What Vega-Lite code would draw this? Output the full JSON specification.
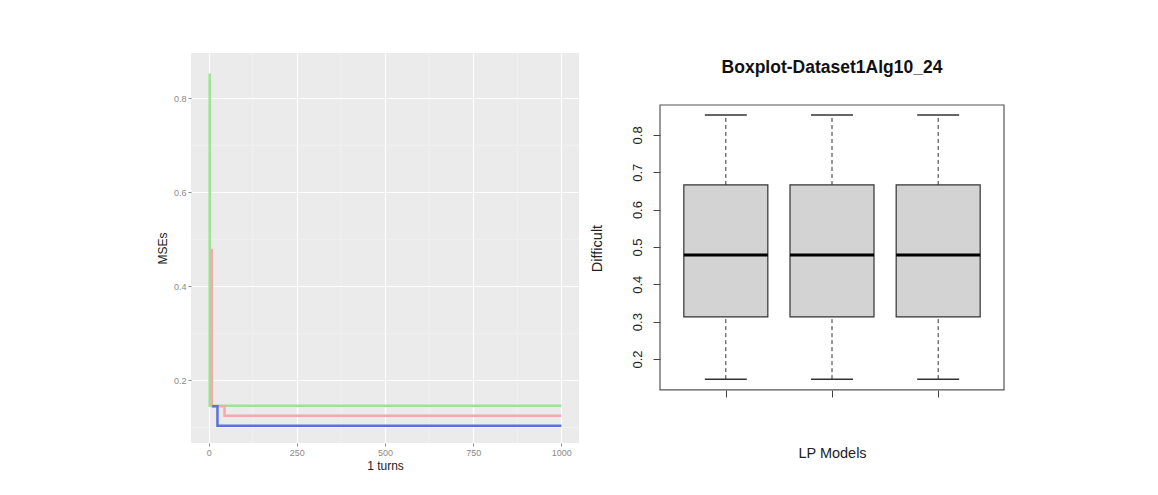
{
  "$schema": "https://vega.github.io/schema/vega-lite/v6.json",
  "padding": {"left": 156, "top": 52, "right": 5, "bottom": 5},
  "config": {
    "font": "Liberation Sans",
    "view": {"stroke": null},
    "concat": {"spacing": 9}
  },
  "hconcat": [
    {
      "width": 388,
      "height": 390,
      "view": {"fill": "#EBEBEB", "stroke": null},
      "layer": [
        {
          "data": {"values": [{"v": 125}, {"v": 375}, {"v": 625}, {"v": 875}]},
          "mark": {"type": "rule", "color": "#F5F5F5", "strokeWidth": 0.6},
          "encoding": {
            "x": {"field": "v", "type": "quantitative", "scale": {"domain": [-50, 1050], "nice": false, "zero": false}}
          }
        },
        {
          "data": {"values": [{"v": 0.1}, {"v": 0.3}, {"v": 0.5}, {"v": 0.7}]},
          "mark": {"type": "rule", "color": "#F5F5F5", "strokeWidth": 0.6},
          "encoding": {
            "y": {"field": "v", "type": "quantitative", "scale": {"domain": [0.067, 0.896], "nice": false, "zero": false}}
          }
        },
        {
          "data": {
            "values": [
              {"series": "green", "i": 0, "turn": 0, "mse": 0.85},
              {"series": "green", "i": 1, "turn": 3, "mse": 0.85},
              {"series": "green", "i": 2, "turn": 3, "mse": 0.146},
              {"series": "green", "i": 3, "turn": 1000, "mse": 0.146},
              {"series": "red", "i": 0, "turn": 9, "mse": 0.48},
              {"series": "red", "i": 1, "turn": 9, "mse": 0.145},
              {"series": "red", "i": 2, "turn": 45, "mse": 0.145},
              {"series": "red", "i": 3, "turn": 45, "mse": 0.125},
              {"series": "red", "i": 4, "turn": 1000, "mse": 0.125},
              {"series": "blue", "i": 0, "turn": 10, "mse": 0.145},
              {"series": "blue", "i": 1, "turn": 25, "mse": 0.145},
              {"series": "blue", "i": 2, "turn": 25, "mse": 0.1035},
              {"series": "blue", "i": 3, "turn": 1000, "mse": 0.1035}
            ]
          },
          "mark": {"type": "line", "strokeWidth": 2.5},
          "encoding": {
            "x": {
              "field": "turn", "type": "quantitative",
              "scale": {"domain": [-50, 1050], "nice": false, "zero": false},
              "axis": {
                "values": [0, 250, 500, 750, 1000], "format": "d", "title": "1 turns",
                "grid": true, "gridColor": "#FFFFFF", "gridWidth": 1.2,
                "domain": false, "tickColor": "#8A8A8A", "tickSize": 3,
                "labelFontSize": 9, "labelColor": "#8A8A8A", "labelPadding": 2,
                "titleFontSize": 12, "titleFontWeight": "normal", "titleColor": "#222222", "titlePadding": 3
              }
            },
            "y": {
              "field": "mse", "type": "quantitative",
              "scale": {"domain": [0.067, 0.896], "nice": false, "zero": false},
              "axis": {
                "values": [0.2, 0.4, 0.6, 0.8], "format": ".1f", "title": "MSEs",
                "grid": true, "gridColor": "#FFFFFF", "gridWidth": 1.2,
                "domain": false, "tickColor": "#8A8A8A", "tickSize": 3,
                "labelFontSize": 9, "labelColor": "#8A8A8A", "labelPadding": 2,
                "titleFontSize": 12, "titleFontWeight": "normal", "titleColor": "#222222", "titlePadding": 4
              }
            },
            "color": {
              "field": "series", "type": "nominal",
              "scale": {"domain": ["green", "red", "blue"], "range": ["#98E68F", "#F2A9B0", "#5C70E4"]},
              "legend": null
            },
            "order": {"field": "i", "type": "quantitative"}
          }
        }
      ]
    },
    {
      "width": 344,
      "height": 390,
      "title": {"text": "Boxplot-Dataset1Alg10_24", "fontSize": 17.5, "fontWeight": "bold", "color": "#111111", "offset": -23, "anchor": "middle"},
      "view": {"stroke": null, "fill": null},
      "data": {
        "values": [
          {"model": 1, "lower": 0.146, "q1": 0.3125, "median": 0.4785, "q3": 0.666, "upper": 0.853},
          {"model": 2, "lower": 0.146, "q1": 0.3125, "median": 0.4785, "q3": 0.666, "upper": 0.853},
          {"model": 3, "lower": 0.146, "q1": 0.3125, "median": 0.4785, "q3": 0.666, "upper": 0.853}
        ]
      },
      "layer": [
        {
          "data": {"values": [{"left": 0.38, "right": 3.62, "bottom": 0.117, "top": 0.88}]},
          "mark": {"type": "rect", "fill": null, "stroke": "#555555", "strokeWidth": 1.2},
          "encoding": {
            "x": {
              "field": "left", "type": "quantitative",
              "scale": {"domain": [0.38, 3.62], "nice": false, "zero": false, "padding": 0},
              "axis": {
                "values": [1, 2, 3], "labels": false, "domain": false, "grid": false, "offset": -53,
                "tickSize": 7, "tickColor": "#444444",
                "title": "LP Models", "titleFontSize": 14.5, "titleFontWeight": "normal", "titleColor": "#222222", "titlePadding": 49
              }
            },
            "x2": {"field": "right"},
            "y": {
              "field": "bottom", "type": "quantitative",
              "scale": {"domain": [-0.025, 1.0193], "nice": false, "zero": false, "padding": 0},
              "axis": {
                "values": [0.2, 0.3, 0.4, 0.5, 0.6, 0.7, 0.8], "format": ".1f", "labelAngle": -90,
                "grid": false, "domain": false, "tickSize": 7, "tickColor": "#444444",
                "labelFontSize": 13, "labelColor": "#222222", "labelPadding": 9,
                "title": "Difficult", "titleFontSize": 14.5, "titleFontWeight": "normal", "titleColor": "#222222", "titlePadding": 27
              }
            },
            "y2": {"field": "top"}
          }
        },
        {
          "mark": {"type": "rule", "color": "#333333", "strokeDash": [4, 3], "strokeWidth": 1},
          "encoding": {
            "x": {"field": "model", "type": "quantitative"},
            "y": {"field": "q3", "type": "quantitative"},
            "y2": {"field": "upper"}
          }
        },
        {
          "mark": {"type": "rule", "color": "#333333", "strokeDash": [4, 3], "strokeWidth": 1},
          "encoding": {
            "x": {"field": "model", "type": "quantitative"},
            "y": {"field": "lower", "type": "quantitative"},
            "y2": {"field": "q1"}
          }
        },
        {
          "mark": {"type": "bar", "width": 84, "fill": "#D3D3D3", "opacity": 1, "stroke": "#333333", "strokeWidth": 1.2},
          "encoding": {
            "x": {"field": "model", "type": "quantitative"},
            "y": {"field": "q1", "type": "quantitative"},
            "y2": {"field": "q3"}
          }
        },
        {
          "mark": {"type": "tick", "orient": "horizontal", "size": 84, "thickness": 3, "color": "#000000", "opacity": 1},
          "encoding": {
            "x": {"field": "model", "type": "quantitative"},
            "y": {"field": "median", "type": "quantitative"}
          }
        },
        {
          "mark": {"type": "tick", "orient": "horizontal", "size": 42, "thickness": 1.5, "color": "#333333", "opacity": 1},
          "encoding": {
            "x": {"field": "model", "type": "quantitative"},
            "y": {"field": "upper", "type": "quantitative"}
          }
        },
        {
          "mark": {"type": "tick", "orient": "horizontal", "size": 42, "thickness": 1.5, "color": "#333333", "opacity": 1},
          "encoding": {
            "x": {"field": "model", "type": "quantitative"},
            "y": {"field": "lower", "type": "quantitative"}
          }
        }
      ]
    }
  ]
}
